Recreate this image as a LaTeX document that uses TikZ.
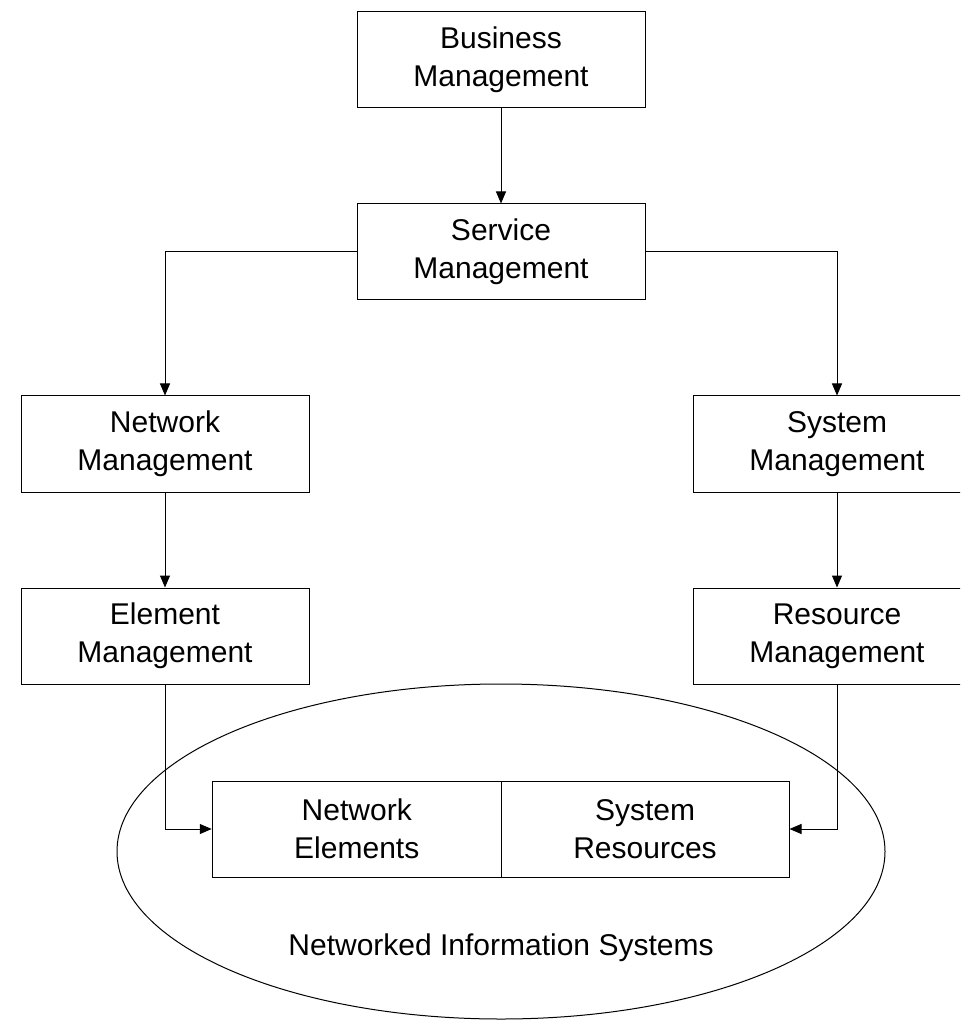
\documentclass[tikz,border=0pt]{standalone}
\usepackage{fontspec}
\setmainfont{Liberation Sans}
\usetikzlibrary{arrows.meta,shapes.geometric}
\begin{document}
\begin{tikzpicture}[x=0.5pt,y=-0.5pt,
  every node/.style={font=\fontsize{15pt}{19pt}\selectfont},
  mbox/.style={draw=black,line width=0.5pt,minimum width=144pt,minimum height=48pt,inner sep=0pt,align=center},
  ibox/.style={draw=black,line width=0.5pt,minimum width=144pt,minimum height=48pt,inner sep=0pt,align=center},
  conn/.style={draw=black,line width=0.5pt,-{Triangle[length=6pt,width=5pt]}},
  cloud/.style={draw=black,line width=0.5pt,ellipse,minimum width=384pt,minimum height=167.5pt,inner sep=0pt}
]
\clip (0,0) rectangle (960,1020);
\node[cloud] (nis) at (501,851.5) {};
\node (nislabel) at (501,948) {Networked Information Systems};
\node[mbox] (bm) at (501,60) {Business\\Management};
\node[mbox] (sm) at (501,252) {Service\\Management};
\node[mbox] (nm) at (165,444) {Network\\Management};
\node[mbox] (sym) at (837,444) {System\\Management};
\node[mbox] (em) at (165,636) {Element\\Management};
\node[mbox] (rm) at (837,636) {Resource\\Management};
\node[ibox,minimum width=144.5pt] (ne) at (356.75,829) {Network\\Elements};
\node[ibox] (sr) at (645,829) {System\\Resources};
\draw[conn] (bm.south) -- (sm.north);
\draw[conn] (sm.west) -| (nm.north);
\draw[conn] (sm.east) -| (sym.north);
\draw[conn] (nm.south) -- (em.north);
\draw[conn] (sym.south) -- (rm.north);
\draw[conn] (em.south) |- (ne.west);
\draw[conn] (rm.south) |- (sr.east);
\end{tikzpicture}
\end{document}
